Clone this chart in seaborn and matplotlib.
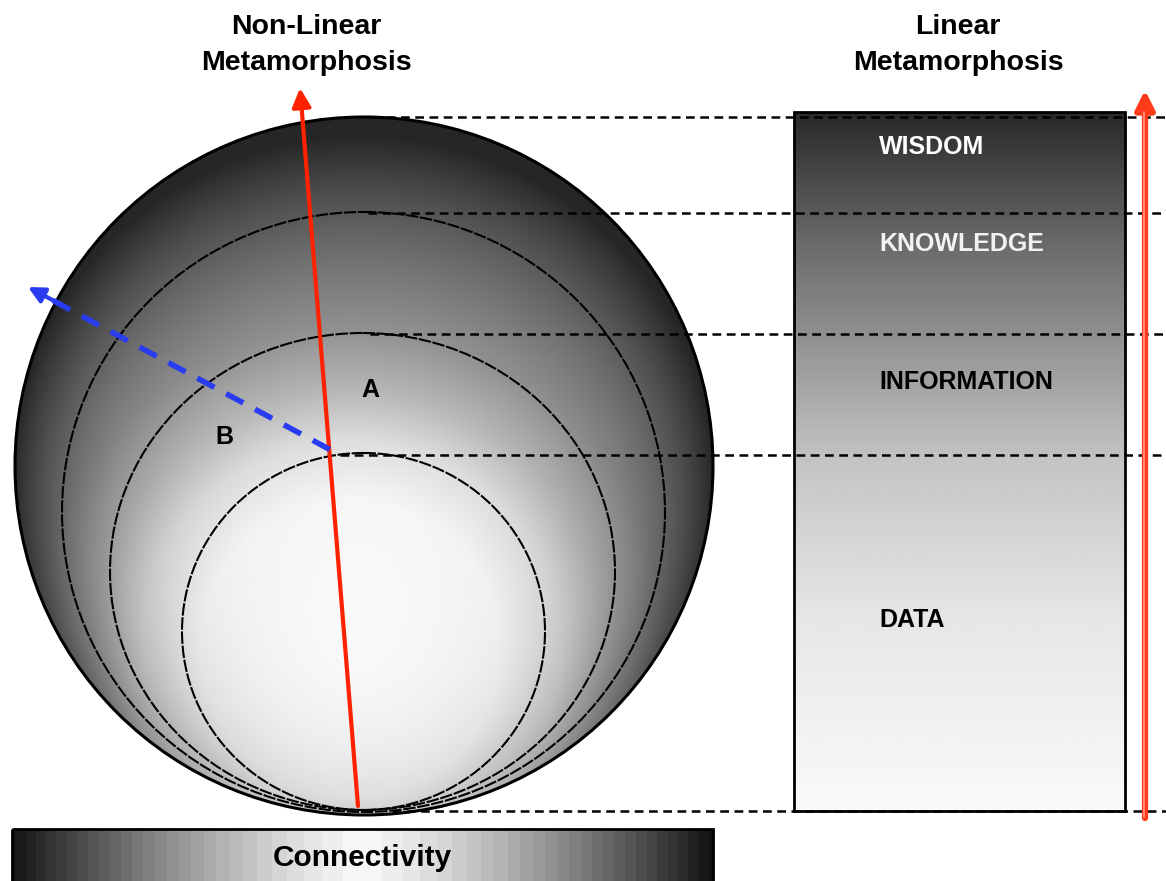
import numpy as np
import matplotlib
matplotlib.use("Agg")
import matplotlib.pyplot as plt
import seaborn as sns
import pandas as pd
from matplotlib.patches import Ellipse, Rectangle

# ---------------- data ----------------
level_names = ["WISDOM", "KNOWLEDGE", "INFORMATION", "DATA"]
level_label_y = [147, 244, 382, 620]
level_label_color = ["white", "#f2f2f2", "black", "black"]

# nested shells (pixel space): top, bottom, left, right
shell_top = [117, 212, 333, 453]
shell_bottom = [815, 812, 810, 810]
shell_left = [15, 62, 110, 182]
shell_right = [713, 665, 615, 545]

# dashed guide lines: y position and starting x
guide_y = [117, 213, 334, 455, 811]
guide_x0 = [372, 368, 370, 340, 392]

titles = ["Non-Linear\nMetamorphosis", "Linear\nMetamorphosis"]
title_x = [306, 958]

point_labels = ["A", "B"]
point_x = [370, 224]
point_y = [390, 437]

# ---------------- figure ----------------
sns.set_theme(style="white")
plt.rcParams['font.family'] = ['Liberation Sans', 'DejaVu Sans']

W, H = 1166, 881
fig = plt.figure(figsize=(W / 100, H / 100), dpi=100)
ax = fig.add_axes([0, 0, 1, 1])
ax.set_xlim(0, W)
ax.set_ylim(H, 0)
ax.axis("off")

# sphere gradient
cx = (shell_left[0] + shell_right[0]) / 2
cy = (shell_top[0] + shell_bottom[0]) / 2
bw = shell_right[0] - shell_left[0]
bh = shell_bottom[0] - shell_top[0]
R = (bw + bh) / 4
xs = np.linspace(shell_left[0], shell_right[0], 500)
ys = np.linspace(shell_top[0], shell_bottom[0], 500)
X, Y = np.meshgrid(xs, ys)
r = np.hypot(X - 350, Y - 650)
g = np.interp(r, [0, 150, 210, 260, 320, 440, 540],
              [0.985, 0.965, 0.87, 0.72, 0.58, 0.40, 0.25])
pc = np.hypot(X - cx, Y - cy)
bd = np.clip(R - pc, 0, None)
ny = np.clip((Y - cy) / np.maximum(pc, 1), 0, 1)
k = 0.65 * (1 - 0.8 * ny ** 2)
g = g * (1 - k * np.exp(-bd / 60))
g = np.clip(g, 0.15, 0.99)

big = Ellipse((cx, cy), bw, bh, facecolor="none", edgecolor="black", lw=2.2, zorder=3)
ax.add_patch(big)
im = ax.imshow(g, cmap="gray", vmin=0, vmax=1, extent=(xs[0], xs[-1], ys[-1], ys[0]),
               interpolation="bilinear", zorder=1)
im.set_clip_path(big)

for i in range(1, 4):
    ecx = (shell_left[i] + shell_right[i]) / 2
    ecy = (shell_top[i] + shell_bottom[i]) / 2
    ax.add_patch(Ellipse((ecx, ecy), shell_right[i] - shell_left[i],
                         shell_bottom[i] - shell_top[i], facecolor="none",
                         edgecolor="black", lw=1.5, ls=(0, (6, 0.8)), zorder=3))

# linear rectangle gradient
rx0, rx1, ry0, ry1 = 794, 1125, 112, 811
fy = np.linspace(0, 1, 300)
gr = np.interp(fy, [0, 0.19, 0.385, 0.5, 0.72, 1],
               [0.16, 0.42, 0.64, 0.77, 0.9, 0.98])
ax.imshow(gr[:, None], cmap="gray", vmin=0, vmax=1, extent=(rx0, rx1, ry1, ry0),
          aspect="auto", interpolation="bilinear", zorder=1)
ax.add_patch(Rectangle((rx0, ry0), rx1 - rx0, ry1 - ry0, facecolor="none",
                       edgecolor="black", lw=2, zorder=3))

# dashed guides
for y0, x0 in zip(guide_y, guide_x0):
    df = pd.DataFrame({"x": [x0, W], "y": [y0, y0]})
    sns.lineplot(data=df, x="x", y="y", ax=ax, color="black", lw=1.8,
                 linestyle=(0, (3.5, 2.2)), zorder=4)

# red non-linear arrow
ax.annotate("", xy=(300, 88), xytext=(358, 806),
            arrowprops=dict(arrowstyle="-|>", color="#ff2200", lw=3,
                            mutation_scale=28, shrinkA=0, shrinkB=0), zorder=6)

# red linear arrow
ax.annotate("", xy=(1145, 90), xytext=(1145, 818),
            arrowprops=dict(arrowstyle="-|>", color="#ff3a1a", lw=4.5,
                            mutation_scale=28, shrinkA=0, shrinkB=0), zorder=6)
ax.plot([1143.5, 1143.5], [112, 817], color="#ff9a88", lw=1.2, zorder=7)

# blue dashed arrow
bx0, by0, bx1, by1 = 340, 455, 28, 287
fr = 0.08
mx, my = bx1 + (bx0 - bx1) * fr, by1 + (by0 - by1) * fr
dfb = pd.DataFrame({"x": [bx0, mx], "y": [by0, my]})
sns.lineplot(data=dfb, x="x", y="y", ax=ax, color="#2a3cf0", lw=4,
             linestyle=(0, (3.5, 2.4)), zorder=6)
ax.annotate("", xy=(bx1, by1), xytext=(mx + 4, my + 2),
            arrowprops=dict(arrowstyle="-|>", color="#2a3cf0", lw=3,
                            mutation_scale=24, shrinkA=0, shrinkB=0), zorder=6)

# connectivity bar
bx = np.linspace(12, 713, 700)
dx = np.abs(bx - 362) / 351
gb = 0.97 - 0.9 * dx ** 1.3
gb = np.round(gb * 30) / 30
ax.imshow(gb[None, :], cmap="gray", vmin=0, vmax=1, extent=(12, 713, 881, 829),
          aspect="auto", interpolation="nearest", zorder=1)
ax.add_patch(Rectangle((12, 829), 701, 60, facecolor="none", edgecolor="black",
                       lw=2, zorder=3))
ax.text(362, 858, "Connectivity", ha="center", va="center", fontsize=21.5,
        fontweight="bold", color="black", zorder=8)

# texts
for tx, tt in zip(title_x, titles):
    ax.text(tx, 45, tt, ha="center", va="center", fontsize=20.5,
            fontweight="bold", linespacing=1.5, color="black", zorder=8)
for name, y, c in zip(level_names, level_label_y, level_label_color):
    ax.text(879, y, name, ha="left", va="center", fontsize=18,
            fontweight="bold", color=c, zorder=8)
for lab, x, y in zip(point_labels, point_x, point_y):
    ax.text(x, y, lab, ha="center", va="center", fontsize=18,
            fontweight="bold", color="black", zorder=8)

fig.savefig("out.png", dpi=100)
